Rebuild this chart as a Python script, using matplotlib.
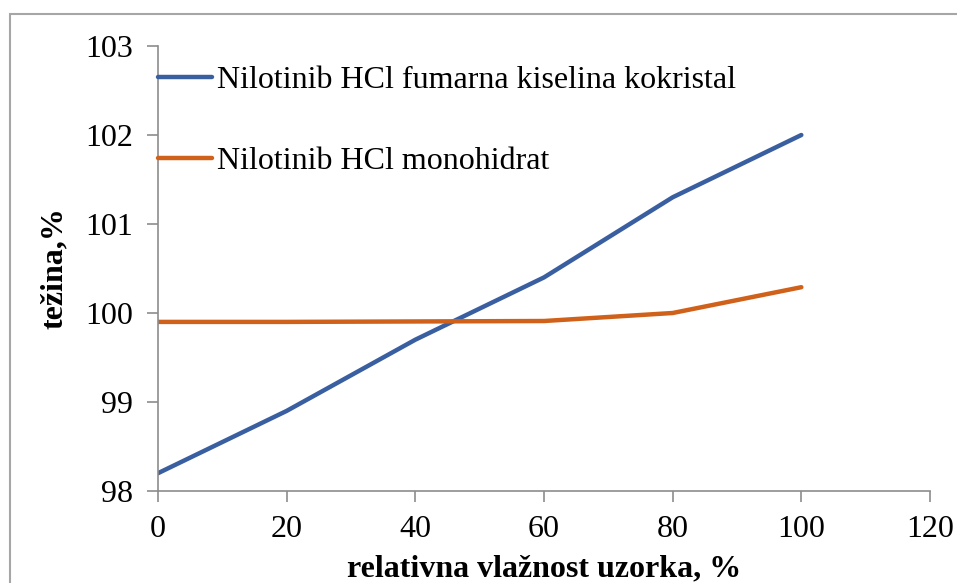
import numpy as np
import matplotlib.pyplot as plt
from matplotlib.patches import Rectangle

plt.rcParams["font.family"] = ["Liberation Serif", "DejaVu Serif"]

# data
rh = [0, 20, 40, 60, 80, 100]
kokristal = [98.2, 98.9, 99.7, 100.4, 101.3, 102.0]
monohidrat = [99.9, 99.9, 99.905, 99.91, 100.0, 100.29]
names = ["Nilotinib HCl fumarna kiselina kokristal", "Nilotinib HCl monohidrat"]

W, H = 957, 583
fig = plt.figure(figsize=(W / 100, H / 100), dpi=100)
# axes box in pixels: left 158, right 930, top 46, bottom 491
ax = fig.add_axes([158 / W, 1 - 491 / H, (930 - 158) / W, (491 - 46) / H])

ax.plot(rh, kokristal, color="#3a5fa0", lw=3.2, label=names[0], solid_capstyle="round")
ax.plot(rh, monohidrat, color="#d0611a", lw=3.2, label=names[1], solid_capstyle="round")

ax.set_xlim(0, 120)
ax.set_ylim(98, 103)
ax.set_xticks(np.arange(0, 121, 20))
ax.set_yticks(np.arange(98, 104, 1))
for s in ["top", "right"]:
    ax.spines[s].set_visible(False)
for s in ["left", "bottom"]:
    ax.spines[s].set_color("#8c8c8c")
    ax.spines[s].set_linewidth(1.2)
ax.tick_params(axis="both", colors="#8c8c8c", length=8, width=1.2, labelsize=23,
               labelcolor="black")
ax.tick_params(axis="y", pad=10)
ax.tick_params(axis="x", pad=9)

ax.set_xlabel("relativna vlažnost uzorka, %", fontsize=23, fontweight="bold", labelpad=8)
ax.set_ylabel("težina,%", fontsize=23, fontweight="bold", labelpad=12)

leg = ax.legend(loc="upper left", bbox_to_anchor=(0.0, 0.955), frameon=False,
                fontsize=23, handlelength=1.7, handletextpad=0.15,
                labelspacing=1.62, borderaxespad=0, borderpad=0)

# outer border of the chart area (cut by the image edge)
fig.patches.append(Rectangle((10 / W, -0.1), 2, 1 - 14 / H + 0.1, transform=fig.transFigure,
                             fill=False, edgecolor="#a6a6a6", lw=1.5))

fig.savefig("out.png", dpi=100)
